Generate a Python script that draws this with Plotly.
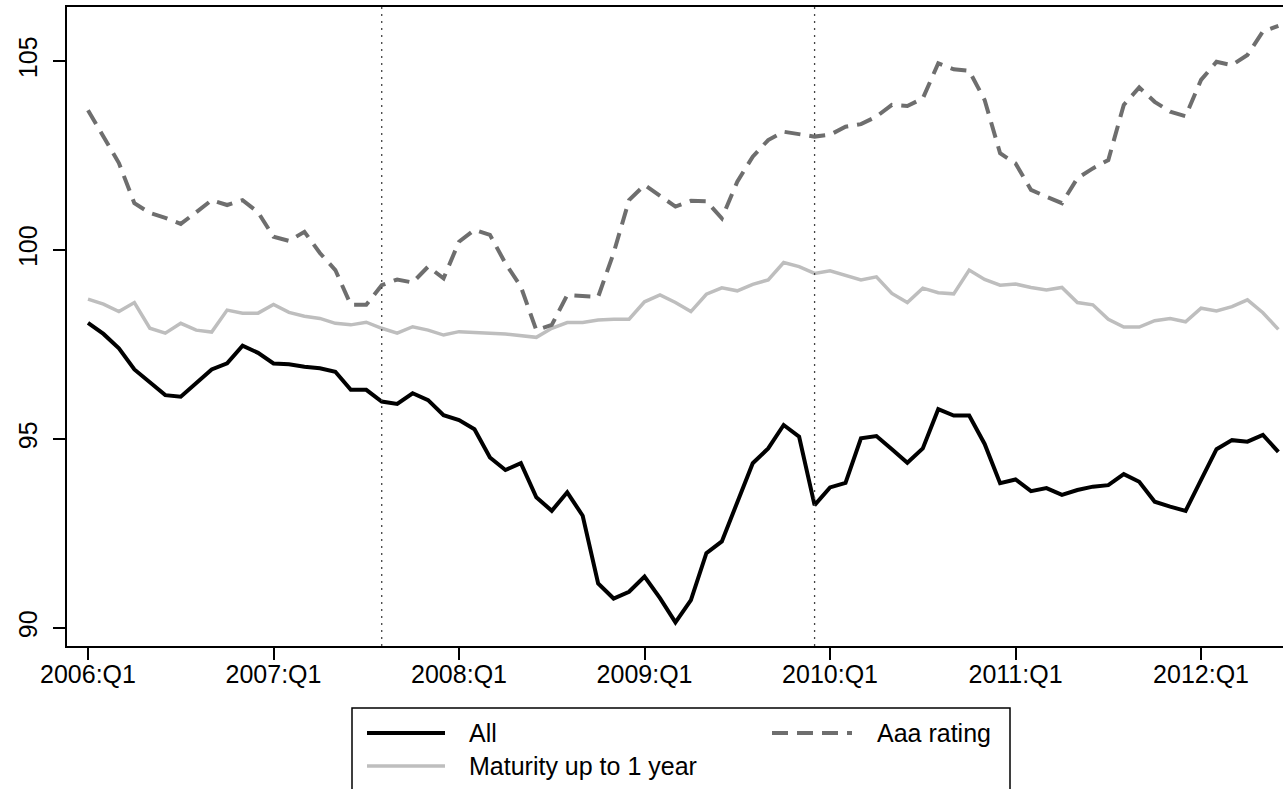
import plotly.graph_objects as go

# ---- data (monthly, Jan 2006 .. Jun 2012) ----
months = list(range(78))
all_vals = [98.07, 97.78, 97.40, 96.84, 96.50, 96.16, 96.12, 96.47, 96.84, 97.00,
            97.47, 97.28, 97.00, 96.98, 96.91, 96.87, 96.78, 96.30, 96.30, 95.99,
            95.93, 96.21, 96.03, 95.63, 95.50, 95.26, 94.51, 94.18, 94.36, 93.46,
            93.10, 93.59, 92.97, 91.18, 90.78, 90.96, 91.36, 90.79, 90.15, 90.74,
            91.98, 92.29, 93.30, 94.36, 94.75, 95.37, 95.06, 93.25, 93.72, 93.84,
            95.02, 95.08, 94.73, 94.37, 94.75, 95.79, 95.62, 95.62, 94.87, 93.83,
            93.93, 93.62, 93.70, 93.52, 93.65, 93.74, 93.78, 94.07, 93.87, 93.34,
            93.21, 93.10, 93.92, 94.73, 94.97, 94.93, 95.11, 94.66]
maturity_vals = [98.70, 98.57, 98.37, 98.61, 97.93, 97.80, 98.06, 97.88, 97.83, 98.41,
                 98.33, 98.33, 98.56, 98.35, 98.25, 98.19, 98.06, 98.02, 98.09, 97.93,
                 97.80, 97.97, 97.88, 97.75, 97.84, 97.83, 97.80, 97.78, 97.74, 97.69,
                 97.93, 98.08, 98.08, 98.15, 98.17, 98.17, 98.63, 98.81, 98.61, 98.37,
                 98.83, 99.00, 98.92, 99.09, 99.21, 99.67, 99.56, 99.38, 99.45, 99.33,
                 99.21, 99.29, 98.85, 98.61, 98.99, 98.87, 98.84, 99.47, 99.22, 99.07,
                 99.10, 99.01, 98.94, 99.01, 98.61, 98.55, 98.17, 97.96, 97.96, 98.13,
                 98.19, 98.10, 98.46, 98.39, 98.50, 98.68, 98.34, 97.90]
aaa_vals = [103.70, 103.00, 102.30, 101.24, 100.98, 100.85, 100.69, 101.00, 101.32, 101.19,
            101.32, 101.00, 100.35, 100.24, 100.48, 99.92, 99.47, 98.55, 98.55, 99.07,
            99.22, 99.14, 99.56, 99.25, 100.22, 100.53, 100.40, 99.65, 99.03, 97.88,
            98.02, 98.81, 98.78, 98.76, 99.92, 101.32, 101.72, 101.43, 101.15, 101.30,
            101.29, 100.84, 101.81, 102.47, 102.91, 103.13, 103.07, 103.00, 103.05, 103.26,
            103.33, 103.53, 103.84, 103.81, 104.01, 104.94, 104.78, 104.74, 103.97, 102.56,
            102.29, 101.59, 101.41, 101.24, 101.90, 102.16, 102.38, 103.84, 104.30, 103.92,
            103.66, 103.54, 104.50, 104.98, 104.89, 105.16, 105.78, 105.93]

x_tick_vals = [0, 12, 24, 36, 48, 60, 72]
x_tick_text = ["2006:Q1", "2007:Q1", "2008:Q1", "2009:Q1", "2010:Q1", "2011:Q1", "2012:Q1"]
y_tick_vals = [90, 95, 100, 105]
event_months = [19, 47]

series_names = ["All", "Maturity up to 1 year", "Aaa rating"]

# ---- styles ----
FONT = "Liberation Sans, Arial, sans-serif"
C_ALL = "#000000"
C_MAT = "#bebebe"
C_AAA = "#6e6e6e"
AAA_DASH = "16px,9px"
W_ALL, W_MAT, W_AAA = 4, 3.5, 4

fig = go.Figure()
fig.add_trace(go.Scatter(x=months, y=maturity_vals, mode="lines", name=series_names[1],
                         line=dict(color=C_MAT, width=W_MAT), showlegend=False))
fig.add_trace(go.Scatter(x=months, y=aaa_vals, mode="lines", name=series_names[2],
                         line=dict(color=C_AAA, width=W_AAA, dash=AAA_DASH), showlegend=False))
fig.add_trace(go.Scatter(x=months, y=all_vals, mode="lines", name=series_names[0],
                         line=dict(color=C_ALL, width=W_ALL), showlegend=False))

for m in event_months:
    fig.add_vline(x=m, line=dict(color="#444444", width=1.3, dash="2px,5px"))

W, H = 1283, 789
L, R, T, B = 67, 0, 7, 143

fig.update_layout(
    width=W, height=H,
    margin=dict(l=L, r=R, t=T, b=B, pad=0),
    paper_bgcolor="white", plot_bgcolor="white",
    font=dict(family=FONT, color="black"),
    showlegend=False,
)
fig.update_xaxes(
    range=[-1.358, 77.30], showgrid=False, zeroline=False,
    tickvals=x_tick_vals, ticktext=x_tick_text,
    ticks="outside", ticklen=12, tickwidth=1.5, tickcolor="black",
    ticklabelstandoff=-7,
    tickfont=dict(size=25, family=FONT, color="black"),
    showline=True, linecolor="black", linewidth=2, mirror=True,
)
fig.update_yaxes(
    range=[89.524, 106.429], showgrid=False, zeroline=False,
    tickvals=y_tick_vals, ticktext=[str(v) for v in y_tick_vals],
    ticks="outside", ticklen=12, tickwidth=1.5, tickcolor="black",
    tickangle=-90, ticklabelstandoff=6,
    tickfont=dict(size=25, family=FONT, color="black"),
    showline=True, linecolor="black", linewidth=2, mirror=False,
)

# ---- legend box drawn below the plot (paper coords from pixel positions) ----
pw = W - L - R
ph = H - T - B
def px(xp):
    return (xp - L) / pw
def py(yp):
    return (H - B - yp) / ph

fig.add_shape(type="rect", xref="paper", yref="paper",
              x0=px(352), x1=px(1010), y0=py(820), y1=py(708),
              line=dict(color="black", width=1.5), fillcolor="white", layer="above")

legend_items = [
    (series_names[0], C_ALL, W_ALL, "solid", 367, 445, 467, 733),
    (series_names[2], C_AAA, W_AAA, AAA_DASH, 772, 852, 875, 733),
    (series_names[1], C_MAT, W_MAT, "solid", 367, 445, 467, 766),
]
for name, col, wd, dash, lx0, lx1, tx, ty in legend_items:
    fig.add_shape(type="line", xref="paper", yref="paper",
                  x0=px(lx0), x1=px(lx1), y0=py(ty), y1=py(ty),
                  line=dict(color=col, width=wd, dash=dash), layer="above")
    fig.add_annotation(xref="paper", yref="paper", x=px(tx), y=py(ty),
                       text=name, showarrow=False, xanchor="left", yanchor="middle",
                       font=dict(size=25, family=FONT, color="black"))

fig.write_html("out.html", config={"displayModeBar": False},
               post_script="document.body.style.margin='0';")
